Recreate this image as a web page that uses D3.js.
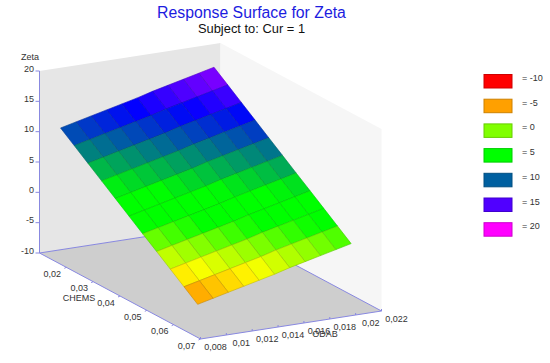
<!DOCTYPE html>
<html><head><meta charset="utf-8">
<script src="https://cdnjs.cloudflare.com/ajax/libs/d3/7.8.5/d3.min.js"></script>
<style>html,body{margin:0;padding:0;background:#fff}svg{display:block}text{font-family:"Liberation Sans",Arial,sans-serif}</style>
</head><body><svg id="c" width="550" height="363"></svg>
<script>
const chemsGrid=[0.0137,0.0188,0.0239,0.029,0.0341,0.0392,0.0443,0.0495,0.0546,0.0597,0.0648];
const odabGrid=[0.00886,0.01005,0.01123,0.01242,0.01361,0.0148,0.01598,0.01717,0.01836,0.01955,0.02073];
const zetaRows=[
[11.2,11.8,12.4,13.0,13.6,14.2,14.9,15.5,16.1,16.7,17.3],
[9.5,10.1,10.7,11.3,11.9,12.5,13.2,13.8,14.4,15.0,15.6],
[7.8,8.4,9.0,9.6,10.2,10.8,11.5,12.1,12.7,13.3,13.9],
[6.1,6.7,7.3,7.9,8.5,9.1,9.8,10.4,11.0,11.6,12.2],
[4.4,5.0,5.6,6.2,6.8,7.4,8.1,8.7,9.3,9.9,10.5],
[2.7,3.3,3.9,4.5,5.1,5.7,6.4,7.0,7.6,8.2,8.8],
[1.0,1.6,2.2,2.8,3.4,4.0,4.7,5.3,5.9,6.5,7.1],
[-0.7,-0.1,0.5,1.1,1.7,2.3,3.0,3.6,4.2,4.8,5.4],
[-2.4,-1.8,-1.2,-0.6,0,0.6,1.3,1.9,2.5,3.1,3.7],
[-4.1,-3.5,-2.9,-2.3,-1.7,-1.1,-0.4,0.2,0.8,1.4,2.0],
[-5.8,-5.2,-4.6,-4.0,-3.4,-2.8,-2.1,-1.5,-0.9,-0.3,0.3]];
const legendLevels=[-10,-5,0,5,10,15,20];
const legendColors=["#ff0000","#ffa000","#80ff00","#00ff00","#0060a0","#5000ff","#ff00ff"];
const surfaceLevels=[-10,-5,-2.5,0,2.2,5,10,13,15,20];
const surfaceColors=["#ff0000","#ffa000","#ffff00","#80ff00","#00ff00","#00ff00","#0060a0","#0000ff","#5000ff","#ff00ff"];
const zetaTicks=[-10,-5,0,5,10,15,20];
const chemsTicks=[0.02,0.03,0.04,0.05,0.06,0.07];
const odabTicks=[0.008,0.01,0.012,0.014,0.016,0.018,0.02,0.022];
const comma=v=>String(v).replace(".",",");

const svg=d3.select("#c");
const U=d3.scaleLinear().domain([0.01,0.07]).range([0,1]);
const V=d3.scaleLinear().domain([0.008,0.022]).range([0,1]);
const W=d3.scaleLinear().domain([-10,20]).range([0,182]);
const O=[39.5,253];
const proj=(c,o,z)=>{const u=U(c),v=V(o);return [O[0]+161*u+181*v,O[1]+86*u-28*v-W(z)];};
const poly=pts=>pts.map(p=>p.join(",")).join(" ");
const color=d3.scaleLinear().domain(surfaceLevels).range(surfaceColors).interpolate(d3.interpolateRgb);

const c0=0.01,c1=0.07,o0=0.008,o1=0.022,z0=-10,z1=20;
svg.append("polygon").attr("points",poly([proj(c0,o0,z0),proj(c0,o1,z0),proj(c0,o1,z1),proj(c0,o0,z1)])).attr("fill","#e6e6e6");
svg.append("polygon").attr("points",poly([proj(c0,o1,z0),proj(c1,o1,z0),proj(c1,o1,z1),proj(c0,o1,z1)])).attr("fill","#f6f6f6");
svg.append("polygon").attr("points",poly([proj(c0,o0,z0),proj(c1,o0,z0),proj(c1,o1,z0),proj(c0,o1,z0)])).attr("fill","#cecece");

const axisCol="#8888e0";
const line=(a,b)=>svg.append("line").attr("x1",a[0]).attr("y1",a[1]).attr("x2",b[0]).attr("y2",b[1]).attr("stroke",axisCol).attr("stroke-width",1);
line(proj(c0,o0,z0),proj(c0,o0,z1));
line(proj(c0,o0,z0),proj(c1,o0,z0));
line(proj(c1,o0,z0),proj(c1,o1,z0));
line(proj(c0,o0,z0),proj(c0,o1,z0));
line(proj(c0,o1,z0),proj(c1,o1,z0));

const label=(x,y,t,anchor)=>svg.append("text").attr("x",x).attr("y",y).attr("text-anchor",anchor||"middle").attr("font-size",9).attr("fill","#333").text(t);
zetaTicks.forEach(z=>{const p=proj(c0,o0,z);
  svg.append("line").attr("x1",p[0]-4).attr("x2",p[0]).attr("y1",p[1]).attr("y2",p[1]).attr("stroke",axisCol);
  label(p[0]-5.5,p[1]+0.5,z,"end");});
label(30,60,"Zeta");
chemsTicks.forEach(c=>{const p=proj(c,o0,z0);
  svg.append("line").attr("x1",p[0]).attr("y1",p[1]).attr("x2",p[0]-2).attr("y2",p[1]+1).attr("stroke",axisCol);
  label(p[0]-14,p[1]+9.5,comma(c));});
odabTicks.forEach(o=>{const p=proj(c1,o,z0);
  svg.append("line").attr("x1",p[0]).attr("y1",p[1]).attr("x2",p[0]).attr("y2",p[1]-2).attr("stroke",axisCol);
  label(p[0]+15,p[1]+11,comma(o));});
label(79,300.5,"CHEMS");
label(325,337,"ODAB");

const cells=[];
for(let i=0;i<chemsGrid.length-1;i++)for(let j=odabGrid.length-2;j>=0;j--){
  const a=zetaRows[i][j],b=zetaRows[i][j+1],d=zetaRows[i+1][j+1],e=zetaRows[i+1][j];
  cells.push({pts:[proj(chemsGrid[i],odabGrid[j],a),proj(chemsGrid[i],odabGrid[j+1],b),proj(chemsGrid[i+1],odabGrid[j+1],d),proj(chemsGrid[i+1],odabGrid[j],e)],z:(a+b+d+e)/4});
}
svg.append("g").selectAll("polygon").data(cells).join("polygon")
  .attr("points",d=>poly(d.pts)).attr("fill",d=>color(d.z))
  .attr("stroke",d=>d3.color(color(d.z)).darker(0.7)).attr("stroke-width",0.6).attr("stroke-linejoin","round");

const lg=svg.append("g").selectAll("g").data(legendLevels).join("g").attr("transform",(d,i)=>`translate(0,${i*24.7})`);
lg.append("rect").attr("x",484).attr("y",74.5).attr("width",28).attr("height",13.5)
  .attr("fill",(d,i)=>legendColors[i]).attr("stroke",(d,i)=>d3.color(legendColors[i]).darker(0.6)).attr("stroke-width",1);
lg.append("text").attr("x",522).attr("y",81).attr("font-size",9).attr("fill","#333").text(d=>"= "+d);

svg.append("text").attr("x",251.5).attr("y",17.5).attr("text-anchor","middle").attr("font-size",15.8).attr("fill","#1c1ce0").text("Response Surface for Zeta");
svg.append("text").attr("x",251.5).attr("y",33).attr("text-anchor","middle").attr("font-size",12.9).attr("fill","#111").text("Subject to: Cur = 1");
</script></body></html>
